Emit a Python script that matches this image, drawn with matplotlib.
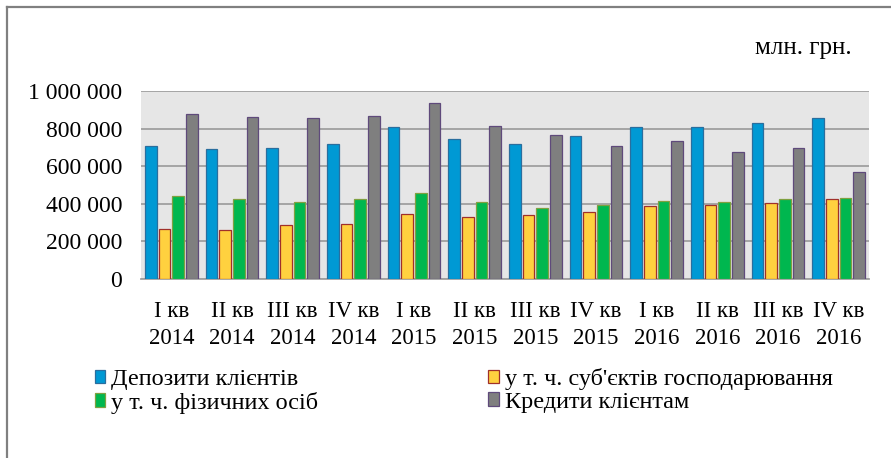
import matplotlib
matplotlib.use("Agg")
import matplotlib.pyplot as plt
from matplotlib.patches import Patch
from matplotlib.lines import Line2D
from matplotlib.ticker import FuncFormatter
from matplotlib.font_manager import FontProperties
import numpy as np

plt.rcParams['font.family'] = ['Liberation Serif', 'DejaVu Serif']

quarters = ["I кв\n2014", "II кв\n2014", "III кв\n2014", "IV кв\n2014",
            "I кв\n2015", "II кв\n2015", "III кв\n2015", "IV кв\n2015",
            "I кв\n2016", "II кв\n2016", "III кв\n2016", "IV кв\n2016"]
deposits = [710000, 691000, 698000, 718000, 808000, 746000, 718000, 760000, 808000, 808000, 828000, 856000]
business = [265000, 259000, 286000, 293000, 348000, 329000, 341000, 355000, 389000, 396000, 403000, 423000]
individuals = [444000, 423000, 410000, 423000, 458000, 410000, 377000, 396000, 417000, 410000, 423000, 430000]
credits = [876000, 861000, 856000, 869000, 936000, 813000, 766000, 710000, 732000, 677000, 698000, 567000]

labels = ["Депозити клієнтів", "у т. ч. суб'єктів господарювання",
          "у т. ч. фізичних осіб", "Кредити клієнтам"]
series = [deposits, business, individuals, credits]
fills = ["#0099D4", "#FFD13F", "#00B74F", "#7F7F7F"]
edges = ["#2A6E9E", "#A0302A", "#7FA040", "#5F4A7B"]

serif = ['Liberation Serif', 'DejaVu Serif']

W, H = 891, 458
fig = plt.figure(figsize=(W / 100, H / 100), dpi=100)
ax = fig.add_axes([141 / W, 1 - 279 / H, (869 - 141) / W, (279 - 91) / H])
ax.set_facecolor("#E6E6E6")

x = np.arange(len(quarters))
step, bw = 0.225, 0.195
for k, (vals, fc, ec) in enumerate(zip(series, fills, edges)):
    ax.bar(x + (k - 1.5) * step, vals, width=bw, color=fc, edgecolor=ec,
           linewidth=0.9, zorder=3)

ax.set_xlim(-0.5, len(quarters) - 0.5)
ax.set_ylim(0, 1000000)
ax.set_yticks(np.arange(0, 1000001, 200000))
ax.yaxis.set_major_formatter(FuncFormatter(lambda v, p: f"{int(v):,}".replace(",", " ")))
ax.grid(axis="y", color="#A0A0A0", linewidth=1.3, zorder=1)
ax.set_axisbelow(True)
ax.set_xticks(x)
ax.set_xticklabels(quarters, fontsize=16.5, linespacing=1.4, family=serif)
ax.tick_params(axis="x", length=0, pad=15.5)
ax.tick_params(axis="y", length=0, pad=13.5, labelsize=17)
for s in ["left", "right", "top"]:
    ax.spines[s].set_visible(False)
ax.spines["bottom"].set_color("#A0A0A0")
ax.spines["bottom"].set_linewidth(1.3)

fig.text(852 / W, 1 - 48 / H, "млн. грн.", ha="right", va="center", fontsize=18,
         family=serif)

order = [0, 2, 1, 3]
handles = [Patch(facecolor=fills[i], edgecolor=edges[i], linewidth=0.9) for i in order]
fig.legend(handles, [labels[i] for i in order], ncol=2, loc="upper left",
           bbox_to_anchor=(95 / W, 1 - 368 / H), frameon=False,
           prop=FontProperties(family=serif, size=17.5),
           handlelength=0.42, handleheight=0.47, handletextpad=0.25,
           labelspacing=0.07, columnspacing=7.0, borderaxespad=0, borderpad=0)

# outer frame (partially cropped)
fig.add_artist(Line2D([7 / W, 7 / W], [0, 1 - 7 / H], transform=fig.transFigure,
                      color="#808080", linewidth=1.6))
fig.add_artist(Line2D([7 / W, 1], [1 - 7 / H, 1 - 7 / H], transform=fig.transFigure,
                      color="#808080", linewidth=1.6))

fig.savefig("out.png", dpi=100)
